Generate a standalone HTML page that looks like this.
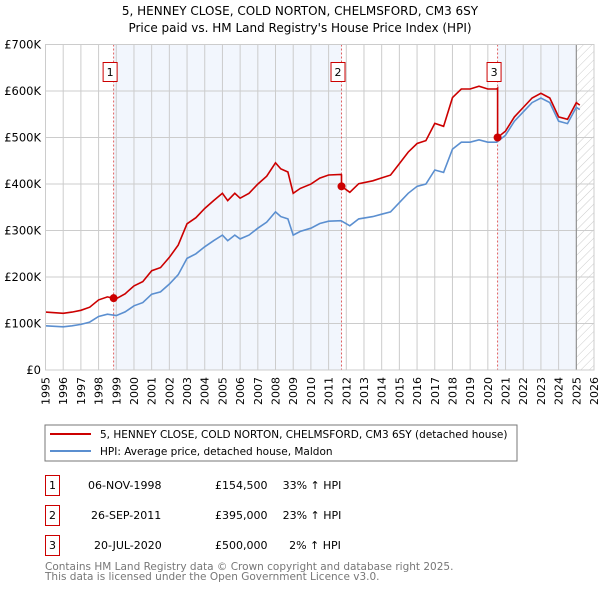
<!DOCTYPE html>
<html><head><meta charset="utf-8"><style>
body{margin:0;background:#fff;font-family:"DejaVu Sans","Liberation Sans",sans-serif;}
svg text{font-family:"DejaVu Sans","Liberation Sans",sans-serif;}
</style></head><body>
<svg id="c" width="600" height="590" viewBox="0 0 600 590" xmlns="http://www.w3.org/2000/svg">
<defs><pattern id="hatch" width="6" height="6" patternUnits="userSpaceOnUse" patternTransform="rotate(45)"><line x1="0" y1="0" x2="0" y2="6" stroke="#ccc" stroke-width="1"/></pattern></defs>
<text x="300" y="15" text-anchor="middle" font-size="12">5, HENNEY CLOSE, COLD NORTON, CHELMSFORD, CM3 6SY</text>
<text x="300" y="32" text-anchor="middle" font-size="12">Price paid vs. HM Land Registry's House Price Index (HPI)</text>
<g id="plot"></g>
<rect x="45" y="425" width="472" height="36" fill="#fff" stroke="#777"/>
<line x1="50" y1="434" x2="91" y2="434" stroke="#cc0000" stroke-width="2"/>
<text x="100" y="438" font-size="10.5">5, HENNEY CLOSE, COLD NORTON, CHELMSFORD, CM3 6SY (detached house)</text>
<line x1="50" y1="451" x2="91" y2="451" stroke="#5b8fd0" stroke-width="2"/>
<text x="100" y="455" font-size="10.5">HPI: Average price, detached house, Maldon</text>
<g font-size="11">
<rect x="45.5" y="475.5" width="14" height="20" fill="none" stroke="#cc0000"/><text x="52.5" y="489" text-anchor="middle">1</text>
<text x="88" y="489">06-NOV-1998</text><text x="215" y="489">£154,500</text><text x="312" y="489" text-anchor="middle">33% ↑ HPI</text>
<rect x="45.5" y="505.5" width="14" height="20" fill="none" stroke="#cc0000"/><text x="52.5" y="519" text-anchor="middle">2</text>
<text x="91" y="519">26-SEP-2011</text><text x="215" y="519">£395,000</text><text x="312" y="519" text-anchor="middle">23% ↑ HPI</text>
<rect x="45.5" y="535.5" width="14" height="20" fill="none" stroke="#cc0000"/><text x="52.5" y="549" text-anchor="middle">3</text>
<text x="94" y="549">20-JUL-2020</text><text x="215" y="549">£500,000</text><text x="315" y="549" text-anchor="middle">2% ↑ HPI</text>
</g>
<text x="45" y="570" font-size="10.5" fill="#777">Contains HM Land Registry data © Crown copyright and database right 2025.</text>
<text x="45" y="580" font-size="10.5" fill="#777">This data is licensed under the Open Government Licence v3.0.</text>
</svg>
<script>
const hpiYears=[1995,1995.5,1996,1996.5,1997,1997.5,1998,1998.5,1999,1999.5,2000,2000.5,2001,2001.5,2002,2002.5,2003,2003.5,2004,2004.5,2005,2005.3,2005.7,2006,2006.5,2007,2007.5,2008,2008.3,2008.7,2009,2009.4,2010,2010.5,2011,2011.7,2012.2,2012.7,2013.5,2014,2014.5,2015,2015.5,2016,2016.5,2017,2017.5,2018,2018.5,2019,2019.5,2020,2020.5,2021,2021.5,2022,2022.5,2023,2023.5,2024,2024.5,2025,2025.2];
const hpiValues=[95,94,93,95,98,103,115,120,117,125,138,145,163,168,185,205,240,250,265,278,290,278,290,282,290,305,318,340,330,325,290,298,305,315,320,321,310,325,330,335,340,360,380,395,400,430,425,475,490,490,495,490,490,505,535,555,575,585,575,535,530,565,560];
const saleYears=[1998.85,2011.73,2020.55];
const salePrices=[154.5,395,500];
const yTicks=[0,100,200,300,400,500,600,700];
const yTickLabels=["£0","£100K","£200K","£300K","£400K","£500K","£600K","£700K"];
const xTicks=[1995,1996,1997,1998,1999,2000,2001,2002,2003,2004,2005,2006,2007,2008,2009,2010,2011,2012,2013,2014,2015,2016,2017,2018,2019,2020,2021,2022,2023,2024,2025,2026];

const X0=45.5,X1=594,Y0=370,Y1=44.5;
const xs=y=>X0+(y-1995)/31*(X1-X0);
const ys=v=>Y0-v/700*(Y0-Y1);
const NS="http://www.w3.org/2000/svg";
const g=document.getElementById('plot');
function mk(t,a){const e=document.createElementNS(NS,t);for(const k in a)e.setAttribute(k,a[k]);g.appendChild(e);return e;}
function hpiAt(t){for(let i=0;i<hpiYears.length-1;i++){if(t<=hpiYears[i+1]){const f=(t-hpiYears[i])/(hpiYears[i+1]-hpiYears[i]);return hpiValues[i]+f*(hpiValues[i+1]-hpiValues[i]);}}return hpiValues[hpiValues.length-1];}
let e=mk('rect',{x:xs(saleYears[0]),y:Y1,width:xs(saleYears[1])-xs(saleYears[0]),height:Y0-Y1,fill:'#eef3fc',opacity:0.75});

e=mk('rect',{x:xs(saleYears[2]),y:Y1,width:xs(2025.0)-xs(saleYears[2]),height:Y0-Y1,fill:'#eef3fc',opacity:0.75});

e=mk('rect',{x:xs(2025.0),y:Y1,width:X1-xs(2025.0),height:Y0-Y1,fill:'url(#hatch)'});

xTicks.forEach((t,i)=>{const l=mk('line',{x1:xs(t),x2:xs(t),y1:Y1,y2:Y0,stroke:'#ccc','stroke-width':1});

const x=xs(t)+4,y=377;
const tx=mk('text',{x:x,y:y,'text-anchor':'end','font-size':11,transform:'rotate(-90 '+x+' '+y+')'});tx.textContent=t;
});
yTicks.forEach((v,i)=>{const l=mk('line',{x1:X0,x2:X1,y1:ys(v),y2:ys(v),stroke:'#ccc','stroke-width':1});

const tx=mk('text',{x:41,y:ys(v)+4,'text-anchor':'end','font-size':11.5});tx.textContent=yTickLabels[i];
});
e=mk('line',{x1:xs(2025.0),x2:xs(2025.0),y1:Y1,y2:Y0,stroke:'#888','stroke-width':1});

saleYears.forEach((s,i)=>{const l=mk('line',{x1:xs(s),x2:xs(s),y1:Y1,y2:Y0,stroke:'#e06060','stroke-width':1,'stroke-dasharray':'2,2'});
});
const hp=hpiYears.map((t,i)=>xs(t).toFixed(1)+','+ys(hpiValues[i]).toFixed(1)).join(' ');
e=mk('polyline',{points:hp,fill:'none',stroke:'#5b8fd0','stroke-width':1.6});

const pts=[];
const ts=[...hpiYears,...saleYears].sort((a,b)=>a-b);
function factorAt(t,before){let k=0;for(let i=0;i<saleYears.length;i++){if(before?t>saleYears[i]:t>=saleYears[i])k=i;}return salePrices[k]/hpiAt(saleYears[k]);}
ts.forEach(t=>{const si=saleYears.indexOf(t);
if(si>0){pts.push([t,hpiAt(t)*factorAt(t,true)]);}
pts.push([t,hpiAt(t)*factorAt(t,false)]);});
e=mk('polyline',{points:pts.map(p=>xs(p[0]).toFixed(1)+','+ys(p[1]).toFixed(1)).join(' '),fill:'none',stroke:'#cc0000','stroke-width':1.6});

saleYears.forEach((s,i)=>{const c=mk('circle',{cx:xs(s),cy:ys(salePrices[i]),r:4,fill:'#cc0000'});

const r=mk('rect',{x:xs(s)-10.5,y:62.5,width:14,height:19,fill:'#fff',stroke:'#cc0000'});

const tx=mk('text',{x:xs(s)-3.5,y:76,'text-anchor':'middle','font-size':11});tx.textContent=i+1;
});
e=mk('rect',{x:X0,y:Y1,width:X1-X0,height:Y0-Y1,fill:'none',stroke:'#ccc'});

</script>
</body></html>
